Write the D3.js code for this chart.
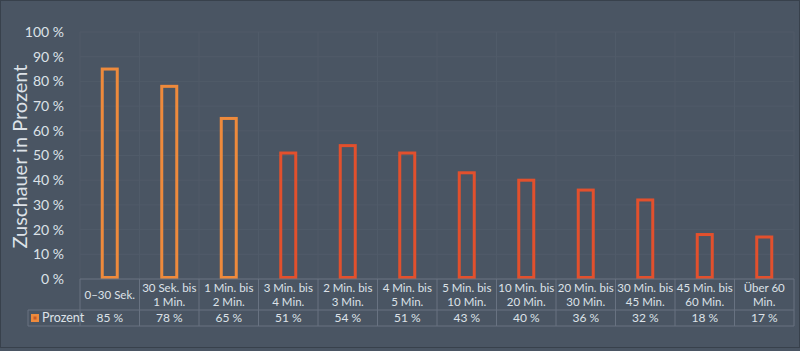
<!DOCTYPE html>
<html>
<head>
<meta charset="utf-8">
<script src="https://cdn.jsdelivr.net/npm/d3@7"></script>
<style>
  body { margin: 0; background: #4a5563; }
  svg { display: block; }
</style>
</head>
<body>
<svg></svg>
<script>
const categories = [
  ["0–30 Sek."], ["30 Sek. bis", "1 Min."], ["1 Min. bis", "2 Min."], ["3 Min. bis", "4 Min."],
  ["2 Min. bis", "3 Min."], ["4 Min. bis", "5 Min."], ["5 Min. bis", "10 Min."], ["10 Min. bis", "20 Min."],
  ["20 Min. bis", "30 Min."], ["30 Min. bis", "45 Min."], ["45 Min. bis", "60 Min."], ["Über 60", "Min."]
];
const values = [85, 78, 65, 51, 54, 51, 43, 40, 36, 32, 18, 17];
const yTicks = [0, 10, 20, 30, 40, 50, 60, 70, 80, 90, 100];
const seriesName = "Prozent";
const yTitle = "Zuschauer in Prozent";

const width = 800, height = 351;
const margin = { left: 80, right: 6, top: 32, bottom: 72 };
const font = "Lato, 'Open Sans', sans-serif";
const textColor = "#dde2e8";
const lineColor = "#687281";

const svg = d3.select("svg").attr("width", width).attr("height", height);

// frame
svg.append("rect")
  .attr("x", 0.5).attr("y", 0.5)
  .attr("width", width - 1).attr("height", height - 4)
  .attr("fill", "#4a5563").attr("stroke", "#38414c");

const x = d3.scaleBand()
  .domain(d3.range(values.length))
  .range([margin.left, width - margin.right]);

const y = d3.scaleLinear()
  .domain([0, 100])
  .range([height - margin.bottom, margin.top]);

const y0 = y(0);

// gridlines
svg.append("g").selectAll("line").data(yTicks).join("line")
  .attr("x1", margin.left).attr("x2", width - margin.right)
  .attr("y1", d => y(d)).attr("y2", d => y(d))
  .attr("stroke", "#505b69");

svg.append("g").selectAll("line").data(d3.range(values.length + 1)).join("line")
  .attr("x1", i => margin.left + i * x.bandwidth()).attr("x2", i => margin.left + i * x.bandwidth())
  .attr("y1", y(100)).attr("y2", y0)
  .attr("stroke", "#505b69");

// y axis labels
const yAxis = svg.append("g")
  .attr("transform", `translate(${margin.left - 13},0)`)
  .call(d3.axisLeft(y).tickValues(yTicks).tickSize(0).tickFormat(d => d + " %"));
yAxis.select(".domain").remove();
yAxis.selectAll("text")
  .attr("fill", textColor).attr("font-family", font).attr("font-size", 14);

svg.append("text")
  .attr("transform", `translate(27,${(y(100) + y0) / 2 + 1}) rotate(-90)`)
  .attr("text-anchor", "middle")
  .attr("fill", textColor).attr("font-family", font).attr("font-size", 20)
  .attr("textLength", 184).attr("lengthAdjust", "spacingAndGlyphs")
  .text(yTitle);

// bars
const bw = 15;
svg.append("g").selectAll("rect").data(values).join("rect")
  .attr("x", (d, i) => x(i) + x.bandwidth() / 2 - bw / 2)
  .attr("y", d => y(d))
  .attr("width", bw)
  .attr("height", d => y0 - y(d) - 1.5)
  .attr("fill", "none")
  .attr("stroke", (d, i) => i < 3 ? "#ee8a3c" : "#e2502d")
  .attr("stroke-width", 3);

// data table
const row1 = y0, row2 = y0 + 31, row3 = y0 + 47;
const table = svg.append("g").attr("stroke", lineColor).attr("stroke-width", 1);
table.append("line").attr("x1", margin.left).attr("x2", width - margin.right).attr("y1", row1).attr("y2", row1);
table.append("line").attr("x1", 28).attr("x2", width - margin.right).attr("y1", row2).attr("y2", row2);
table.append("line").attr("x1", 28).attr("x2", width - margin.right).attr("y1", row3).attr("y2", row3);
table.append("line").attr("x1", 28).attr("x2", 28).attr("y1", row2).attr("y2", row3);
table.selectAll(".v").data(d3.range(values.length + 1)).join("line")
  .attr("x1", i => margin.left + i * x.bandwidth()).attr("x2", i => margin.left + i * x.bandwidth())
  .attr("y1", row1).attr("y2", row3);

const cats = svg.append("g").selectAll("text").data(categories).join("text")
  .attr("text-anchor", "middle")
  .attr("fill", textColor).attr("font-family", font).attr("font-size", 11.5)
  .attr("transform", (d, i) => `translate(${x(i) + x.bandwidth() / 2},${d.length === 1 ? row1 + 20 : row1 + 13})`);
cats.selectAll("tspan").data(d => d).join("tspan")
  .attr("x", 0).attr("dy", (d, j) => j === 0 ? 0 : 14)
  .text(d => d);

svg.append("g").selectAll("text").data(values).join("text")
  .attr("x", (d, i) => x(i) + x.bandwidth() / 2)
  .attr("y", row2 + 12)
  .attr("text-anchor", "middle")
  .attr("fill", textColor).attr("font-family", font).attr("font-size", 12)
  .text(d => d + " %");

// legend key
svg.append("rect").attr("x", 31).attr("y", row2 + 4).attr("width", 8).attr("height", 8).attr("fill", "#ee8a3c");
svg.append("rect").attr("x", 33.5).attr("y", row2 + 6.5).attr("width", 3).attr("height", 3).attr("fill", "#c85a25");
svg.append("text")
  .attr("x", 42).attr("y", row2 + 12)
  .attr("fill", textColor).attr("font-family", font).attr("font-size", 12.5)
  .text(seriesName);
</script>
</body>
</html>
